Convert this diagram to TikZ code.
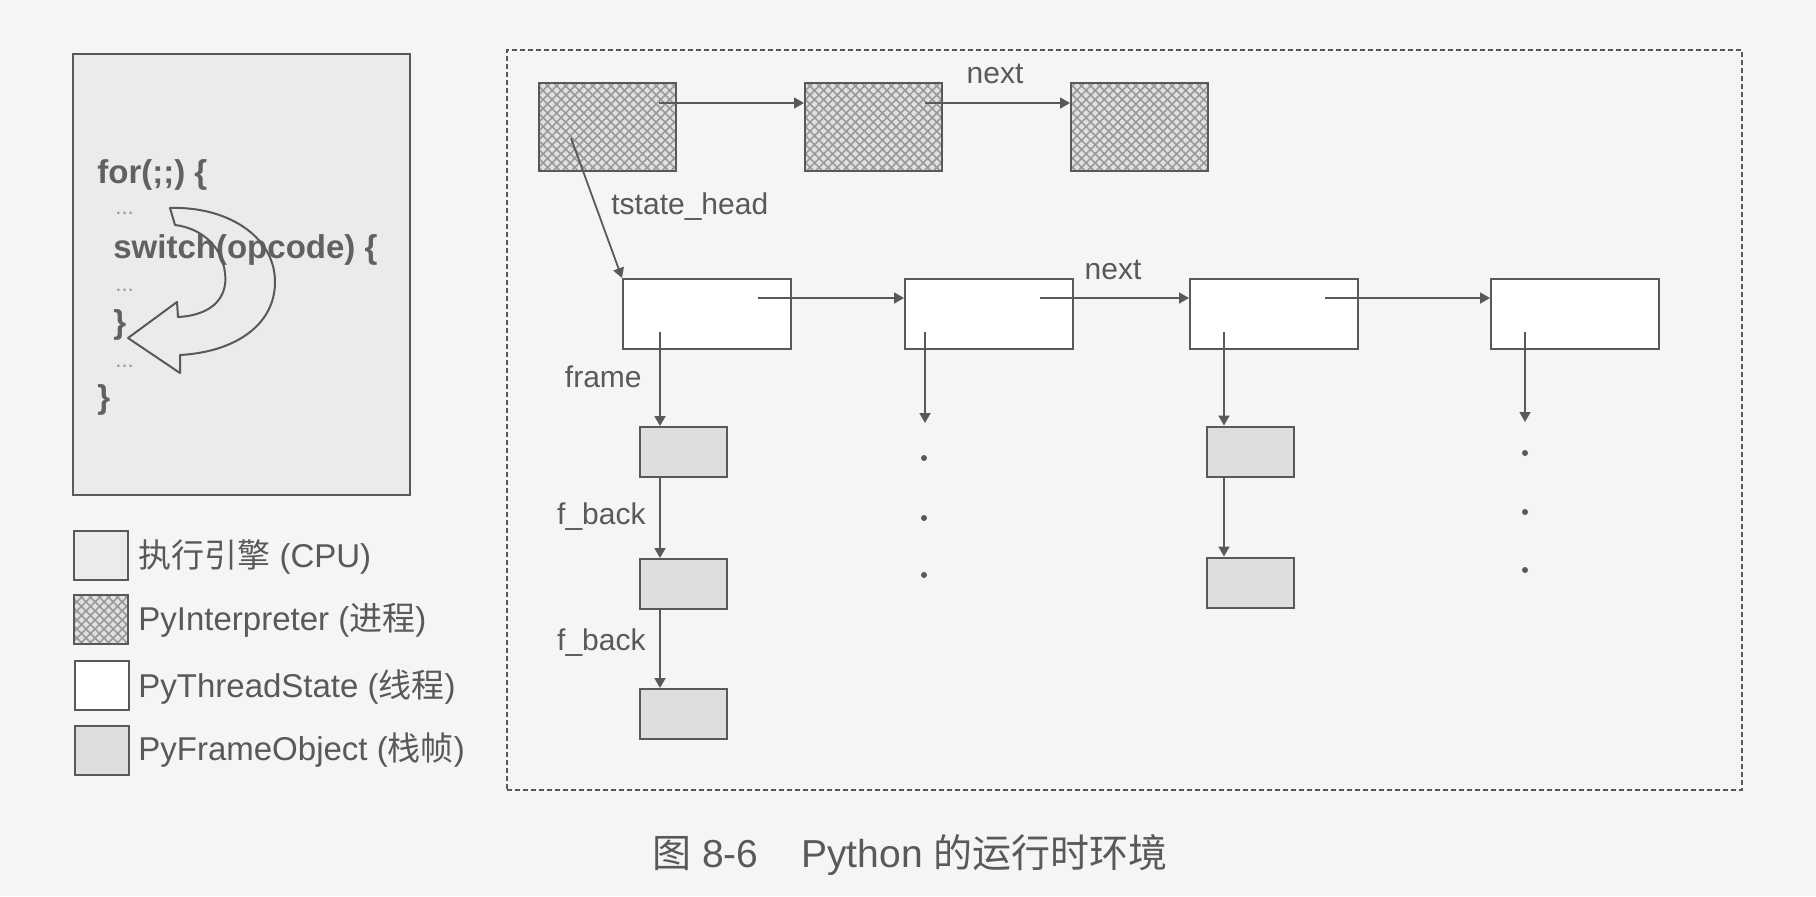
\documentclass[tikz,border=0pt]{standalone}
\usepackage{fontspec}
\setmainfont{Liberation Sans}
\newfontfamily\zh{Noto Sans CJK SC}
\usepackage{tikz}
\usetikzlibrary{arrows.meta,patterns.meta}
\usepackage{xcolor}
\colorlet{ink}{black!65}

\begin{document}
\begin{tikzpicture}[x=0.5pt,y=-0.5pt,>={Triangle[length=5pt,width=5.5pt]},
  hatched/.style={preaction={fill=black!12},pattern={Hatch[angle=45,distance=3.2pt,line width=0.8pt]},pattern color=black!40},
  box/.style={draw=ink,line width=1pt,inner sep=0pt},
  interp/.style={box,hatched,minimum width=68.5pt,minimum height=44pt},
  tstate/.style={box,fill=white,minimum width=84pt,minimum height=35pt},
  frm/.style={box,fill=black!13,minimum width=43.5pt,minimum height=25pt},
  legbox/.style={box,minimum width=27pt,minimum height=24.5pt},
  lbl/.style={text=ink,font=\fontsize{15}{18}\selectfont,inner sep=0pt},
  legtext/.style={text=ink,font=\fontsize{16.5}{20}\selectfont,inner sep=0pt,anchor=west},
  code/.style={text=black!62,font=\fontsize{16.5}{20}\selectfont\bfseries,inner sep=0pt,anchor=west},
  etc/.style={text=black!40,font=\fontsize{11}{13}\selectfont,inner sep=0pt,anchor=west},
  link/.style={->,draw=ink,line width=0.9pt},
  dotmark/.style={circle,fill=ink,inner sep=0pt,minimum size=3pt}]
  \fill[black!4] (0,0) rectangle (1816,896);
  \useasboundingbox (0,0) rectangle (1816,896);

  % engine
  \node[box,fill=black!8,minimum width=168.5pt,minimum height=220.5pt] (cpu) at (241.5,274.5) {};
  \node[code] (c1) at (97,175) {for(;;) \{};
  \node[etc] (c2) at (115,213) {...};
  \node[code] (c3) at (113,250) {switch(opcode) \{};
  \node[etc] (c4) at (115,290) {...};
  \node[code] (c5) at (113,325) {\}};
  \node[etc] (c6) at (115,366) {...};
  \node[code] (c7) at (97,400) {\}};
  \draw[ink,line width=1pt,line join=round] (170,208) .. controls (225,206) and (275,235) .. (275,282)
    .. controls (275,325) and (235,352) .. (180,355) -- (180,373) -- (128,338) -- (177,302) -- (178,317)
    .. controls (215,315) and (228,295) .. (225,273) .. controls (222,245) and (200,228) .. (175,225) -- cycle;

  % legend
  \node[legbox,fill=black!8] (lg1) at (101,555) {};
  \node[legbox,hatched] (lg2) at (101,619) {};
  \node[legbox,fill=white] (lg3) at (102,685) {};
  \node[legbox,fill=black!13] (lg4) at (102,750) {};
  \node[legtext] (lt1) at (138,557) {{\zh 执行引擎} (CPU)};
  \node[legtext] (lt2) at (138,620) {PyInterpreter ({\zh 进程})};
  \node[legtext] (lt3) at (138,687) {PyThreadState ({\zh 线程})};
  \node[legtext] (lt4) at (138,750) {PyFrameObject ({\zh 栈帧})};

  % runtime
  \node[draw=ink,line width=0.8pt,dash pattern=on 2.5pt off 1.5pt,minimum width=617.5pt,minimum height=370pt,inner sep=0pt] (env) at (1124.5,420) {};

  \node[interp] (i1) at (607.5,127) {};
  \node[interp] (i2) at (873.5,127) {};
  \node[interp] (i3) at (1139.5,127) {};
  \draw[link] ([xshift=25.75pt,yshift=12pt]i1.center) -- ([yshift=12pt]i2.west);
  \draw[link] ([xshift=25.75pt,yshift=12pt]i2.center) -- ([yshift=12pt]i3.west);
  \node[lbl] (n1) at (995,74) {next};

  \node[tstate] (t1) at (707,314) {};
  \node[tstate] (t2) at (989,314) {};
  \node[tstate] (t3) at (1274,314) {};
  \node[tstate] (t4) at (1575,314) {};
  \draw[link] ([xshift=-18.25pt,yshift=-5.5pt]i1.center) -- (t1.north west);
  \node[lbl,anchor=west] (th) at (611,207) {tstate\_head};
  \draw[link] ([xshift=25.5pt,yshift=8pt]t1.center) -- ([yshift=8pt]t2.west);
  \draw[link] ([xshift=25.5pt,yshift=8pt]t2.center) -- ([yshift=8pt]t3.west);
  \draw[link] ([xshift=25.5pt,yshift=8pt]t3.center) -- ([yshift=8pt]t4.west);
  \node[lbl] (n2) at (1113,270) {next};

  % frames
  \node[frm] (f11) at (683.5,452) {};
  \node[frm] (f12) at (683.5,584) {};
  \node[frm] (f13) at (683.5,714) {};
  \node[frm] (f31) at (1250,451.5) {};
  \node[frm] (f32) at (1250,582.5) {};
  \draw[link] ([xshift=-23.5pt,yshift=-9pt]t1.center) -- ([xshift=-11.75pt]f11.north);
  \draw[link] ([xshift=-11.75pt]f11.south) -- ([xshift=-11.75pt]f12.north);
  \draw[link] ([xshift=-11.75pt]f12.south) -- ([xshift=-11.75pt]f13.north);
  \draw[link] ([xshift=-25pt,yshift=-9pt]t3.center) -- ([xshift=-13pt]f31.north);
  \draw[link] ([xshift=-13pt]f31.south) -- ([xshift=-13pt]f32.north);
  \node[lbl,anchor=east] (fr) at (642,377) {frame};
  \node[lbl,anchor=east] (fb1) at (646,517) {f\_back};
  \node[lbl,anchor=east] (fb2) at (646,643) {f\_back};

  \coordinate (e2) at (925,423);
  \coordinate (e4) at (1525,422);
  \draw[link] ([xshift=-32pt,yshift=-9pt]t2.center) -- (e2);
  \draw[link] ([xshift=-25pt,yshift=-9pt]t4.center) -- (e4);
  \node[dotmark] (d21) at (924,458) {};
  \node[dotmark] (d22) at (924,518) {};
  \node[dotmark] (d23) at (924,575) {};
  \node[dotmark] (d41) at (1525,453) {};
  \node[dotmark] (d42) at (1525,512) {};
  \node[dotmark] (d43) at (1525,570) {};

  \node[text=ink,font=\fontsize{19.5}{23}\selectfont] (cap) at (910,855) {{\zh 图} 8-6\hspace{1.1em}Python {\zh 的运行时环境}};
\end{tikzpicture}
\end{document}
